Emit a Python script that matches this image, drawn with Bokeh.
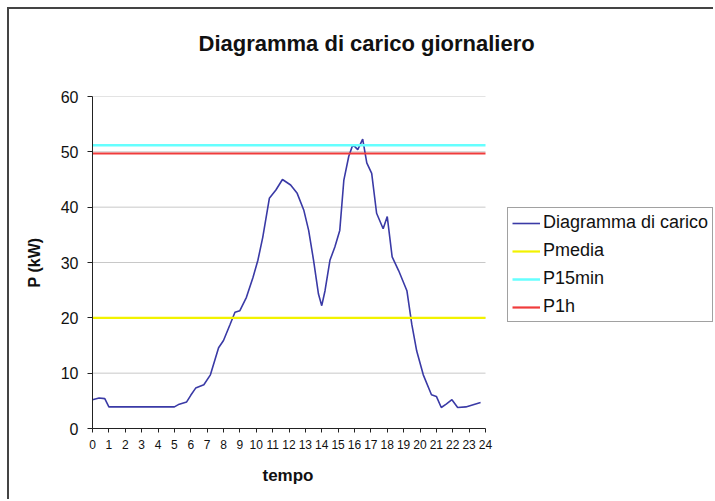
from bokeh.plotting import figure
from bokeh.models import Range1d, FixedTicker, Legend, LegendItem, Title
from bokeh.embed import file_html
from bokeh.resources import INLINE

# ---- data ----
hours = [0.0, 0.4, 0.75, 1.0, 1.25, 5.0, 5.3, 5.75, 6.0, 6.3, 6.8, 7.2, 7.7, 8.0,
         8.4, 8.7, 9.0, 9.4, 9.8, 10.1, 10.4, 10.8, 11.2, 11.6, 12.1, 12.5, 12.9,
         13.2, 13.5, 13.8, 14.0, 14.2, 14.5, 14.8, 15.1, 15.35, 15.65, 15.9, 16.2,
         16.5, 16.75, 17.05, 17.35, 17.75, 18.0, 18.3, 18.7, 19.2, 19.5, 19.8,
         20.2, 20.7, 21.0, 21.3, 21.6, 21.95, 22.3, 22.8, 23.7]
load_kw = [5.2, 5.5, 5.4, 3.9, 3.9, 3.9, 4.4, 4.8, 6.0, 7.3, 7.9, 9.7, 14.6, 15.9,
           18.8, 21.0, 21.3, 23.7, 27.3, 30.4, 34.6, 41.6, 43.1, 45.0, 44.0, 42.5,
           39.5, 35.8, 30.4, 24.3, 22.2, 24.9, 30.4, 32.8, 35.8, 44.9, 49.2, 51.3,
           50.4, 52.3, 48.0, 46.1, 38.9, 36.1, 38.3, 31.0, 28.5, 24.9, 18.8, 14.0,
           9.7, 6.1, 5.8, 3.8, 4.4, 5.2, 3.8, 3.9, 4.7]
p_media = 20.0
p_15min = 51.2
p_1h = 49.7
day_start, day_end = 0, 24
x_ticks = list(range(0, 25))
y_ticks = [0, 10, 20, 30, 40, 50, 60]
series_names = ["Diagramma di carico", "Pmedia", "P15min", "P1h"]
title_text = "Diagramma di carico giornaliero"
x_label = "tempo"
y_label = "P (kW)"

FONT = "Liberation Sans"

# plotting frame 92..485 px holds 0..24 h; it is extended to the right edge
# (with nothing drawn there) so that the legend can sit beside the chart
FRAME_LEFT, AXIS_RIGHT, CANVAS_W = 83, 393, 706
x_view_end = day_end * (CANVAS_W - FRAME_LEFT) / AXIS_RIGHT

p = figure(width=CANVAS_W, height=492,
           x_range=Range1d(day_start, x_view_end), y_range=Range1d(0, 60),
           output_backend="svg", toolbar_location=None,
           min_border_left=FRAME_LEFT, min_border_right=0,
           min_border_top=87, min_border_bottom=73)
p.margin = (7, 0, 0, 7)
p.styles = {"border-left": "2px solid #444444", "border-top": "2px solid #444444"}
p.background_fill_color = "white"
p.border_fill_color = "white"
p.outline_line_color = None

# spacer between the frame and the title (sits closest to the frame)
p.add_layout(Title(text=" ", text_font_size="1px", standoff=38), "above")

p.title.text = title_text
p.title.align = "left"
p.title.offset = 106
p.title.standoff = 0
p.title.text_font = FONT
p.title.text_font_size = "22px"
p.title.text_font_style = "bold"
p.title.text_color = "#111111"

# horizontal grid lines over the day only
p.xgrid.visible = False
p.ygrid.visible = False
p.segment(x0=day_start, x1=day_end, y0=y_ticks, y1=y_ticks,
          line_color="#c8c8c8", line_width=1)

r_load = p.line(hours, load_kw, line_color="#3a3aa6", line_width=1.6)
r_media = p.line([day_start, day_end], [p_media, p_media], line_color="#f2f200", line_width=2.2)
r_15 = p.line([day_start, day_end], [p_15min, p_15min], line_color="#66ffff", line_width=2.5)
r_1h = p.line([day_start, day_end], [p_1h, p_1h], line_color="#f03c3c", line_width=2.2)

legend = Legend(items=[LegendItem(label=n, renderers=[r]) for n, r in
                       zip(series_names, [r_load, r_media, r_15, r_1h])],
                location=(415, 106),
                border_line_color="#444444", border_line_width=1,
                label_text_font=FONT, label_text_font_size="18px",
                label_text_color="#111111",
                glyph_width=28, glyph_height=20, label_height=20,
                spacing=7, padding=4, margin=0, label_standoff=3,
                background_fill_color="white", background_fill_alpha=1)
p.add_layout(legend)

p.xaxis.ticker = FixedTicker(ticks=x_ticks)
p.xaxis.bounds = (day_start, day_end)
p.yaxis.ticker = FixedTicker(ticks=y_ticks)
for ax in (p.xaxis, p.yaxis):
    ax.axis_line_color = "#222222"
    ax.major_tick_line_color = "#222222"
    ax.minor_tick_line_color = None
    ax.major_tick_in = 0
    ax.major_label_text_font = FONT
    ax.major_label_text_color = "#111111"
    ax.axis_label_text_font = FONT
    ax.axis_label_text_font_style = "bold"
    ax.axis_label_text_color = "#111111"

p.xaxis.major_tick_out = 4
p.xaxis.major_label_text_font_size = "12px"
p.xaxis.major_label_standoff = 7

# x-axis label centred under the 0..24 h axis (not under the widened frame)
p.add_layout(Title(text=x_label, align="left", offset=170, standoff=24,
                   text_font=FONT, text_font_size="17px", text_font_style="bold",
                   text_color="#111111"), "below")

p.yaxis.major_tick_out = 5
p.yaxis.major_label_text_font_size = "16px"
p.yaxis.major_label_standoff = 9
p.yaxis.axis_label = y_label
p.yaxis.axis_label_text_font_size = "16px"
p.yaxis.axis_label_standoff = 15

open("out.html", "w").write(file_html(p, INLINE))
